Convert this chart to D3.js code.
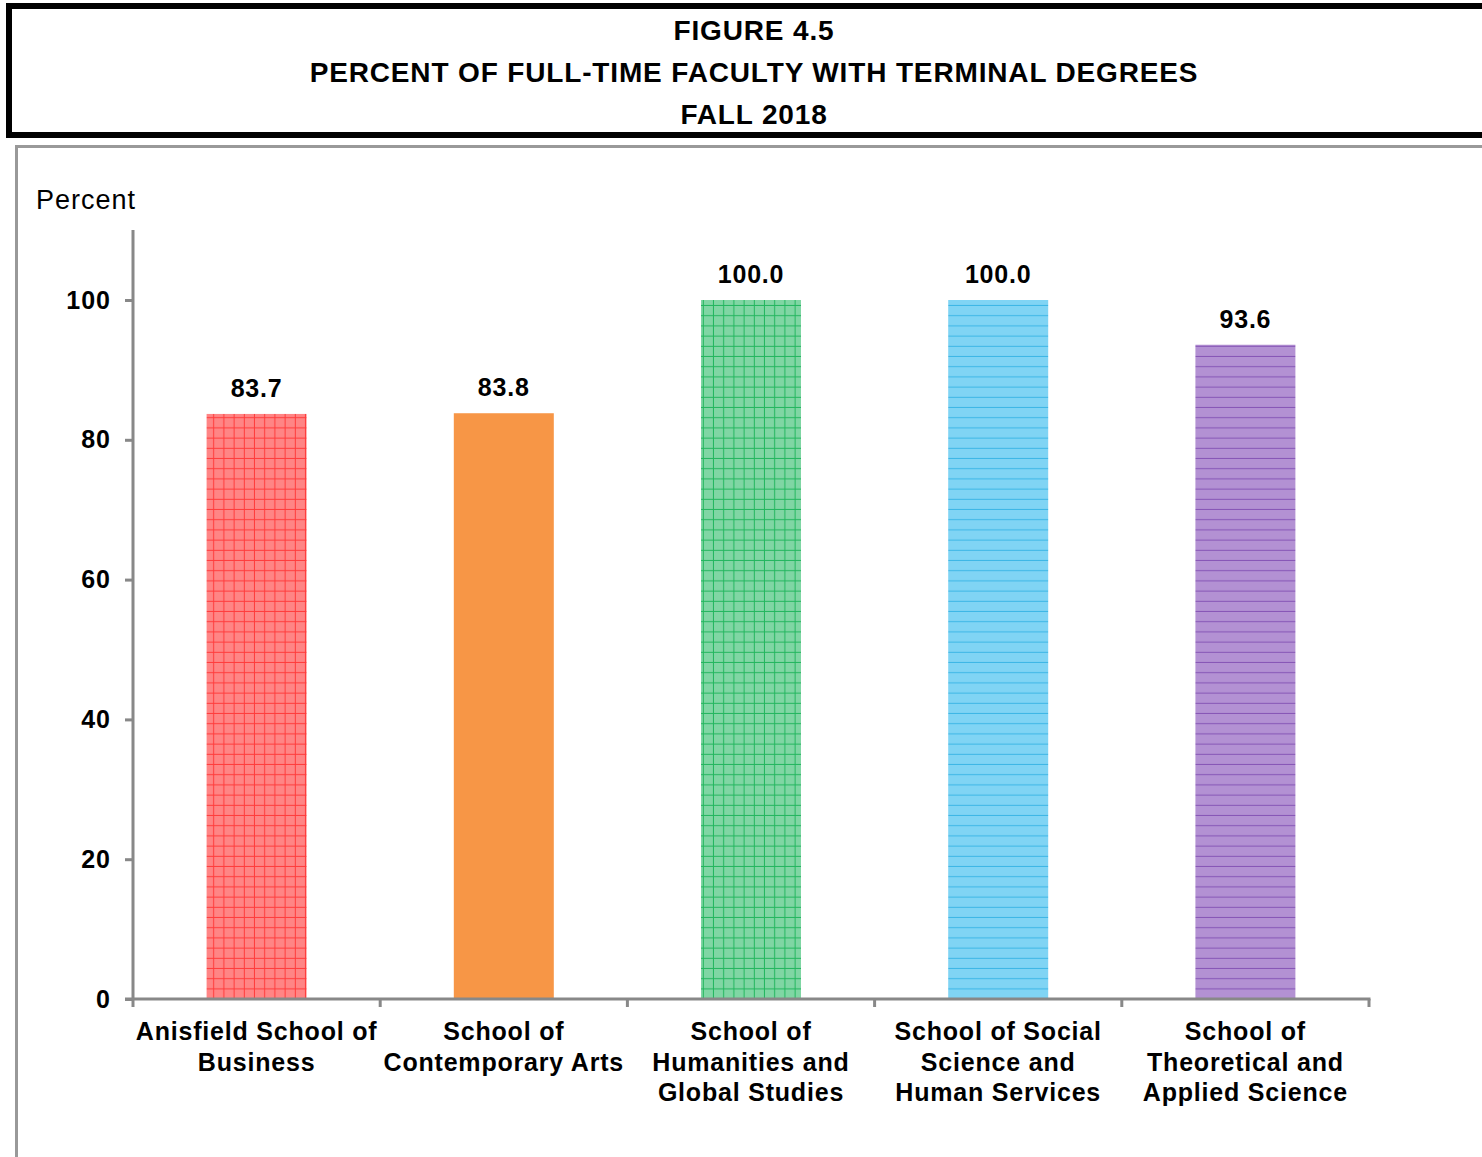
<!DOCTYPE html>
<html>
<head>
<meta charset="utf-8">
<script src="https://cdn.jsdelivr.net/npm/d3@7"></script>
<style>
  html, body { margin: 0; padding: 0; background: #fff; }
  svg { display: block; font-family: Arial, "Liberation Sans", sans-serif; }
</style>
</head>
<body>
<svg id="chart" width="1482" height="1157"></svg>
<script>
// Figure data
const titleLines = ["FIGURE 4.5", "PERCENT OF FULL-TIME FACULTY WITH TERMINAL DEGREES", "FALL 2018"];
const schools = [
  ["Anisfield School of", "Business"],
  ["School of", "Contemporary Arts"],
  ["School of", "Humanities and", "Global Studies"],
  ["School of Social", "Science and", "Human Services"],
  ["School of", "Theoretical and", "Applied Science"]
];
const percents = [83.7, 83.8, 100.0, 100.0, 93.6];
const yTicks = [0, 20, 40, 60, 80, 100];
const yLabel = "Percent";

// Fill style per bar: base colour, line colour, hatch type
const barStyles = [
  { fill: "#ff8585", line: "#ff3b3b", kind: "grid" },
  { fill: "#f79646", line: "#f79646", kind: "solid" },
  { fill: "#80d6a4", line: "#22b65e", kind: "grid" },
  { fill: "#80d4f4", line: "#3cb6e6", kind: "hlines" },
  { fill: "#b391d3", line: "#8655b6", kind: "hlines" }
];

const svg = d3.select("#chart");
const defs = svg.append("defs");

barStyles.forEach((s, i) => {
  if (s.kind === "solid") return;
  const p = defs.append("pattern")
    .attr("id", "pat" + i)
    .attr("patternUnits", "userSpaceOnUse")
    .attr("width", 10.2).attr("height", 10.2);
  p.append("rect").attr("width", 10.2).attr("height", 10.2).attr("fill", s.fill);
  p.append("rect").attr("x", 0).attr("y", 9.2).attr("width", 10.2).attr("height", 1.2).attr("fill", s.line);
  if (s.kind === "grid") {
    p.append("rect").attr("x", 9.2).attr("y", 0).attr("width", 1.2).attr("height", 10.2).attr("fill", s.line);
  }
});

// Title box
svg.append("rect")
  .attr("x", 9).attr("y", 6).attr("width", 1490).attr("height", 129)
  .attr("fill", "none").attr("stroke", "#000").attr("stroke-width", 6);

svg.append("g").selectAll("text")
  .data(titleLines)
  .join("text")
  .attr("x", 754)
  .attr("y", (d, i) => 40 + i * 42)
  .attr("text-anchor", "middle")
  .attr("font-size", 28)
  .attr("letter-spacing", 0.85)
  .attr("font-weight", "bold")
  .text(d => d);

// Chart frame
svg.append("path")
  .attr("d", "M16.5,1157 V146.5 H1482")
  .attr("fill", "none").attr("stroke", "#999").attr("stroke-width", 3);

// Plot area
const x0 = 133, x1 = 1369, yBase = 999;
const x = d3.scaleBand().domain(d3.range(schools.length)).range([x0, x1]).paddingInner(0).paddingOuter(0);
const y = d3.scaleLinear().domain([0, 110]).range([yBase, yBase - 110 * 6.99]);
const barW = 100;

// Bars
svg.append("g").selectAll("rect")
  .data(percents)
  .join("rect")
  .attr("x", (d, i) => x(i) + x.bandwidth() / 2 - barW / 2)
  .attr("y", d => y(d))
  .attr("width", barW)
  .attr("height", d => y(0) - y(d))
  .attr("fill", (d, i) => barStyles[i].kind === "solid" ? barStyles[i].fill : `url(#pat${i})`);

// Value labels
svg.append("g").selectAll("text")
  .data(percents)
  .join("text")
  .attr("x", (d, i) => x(i) + x.bandwidth() / 2)
  .attr("y", d => y(d) - 17)
  .attr("text-anchor", "middle")
  .attr("font-size", 25)
  .attr("letter-spacing", 0.8)
  .attr("font-weight", "bold")
  .text(d => d.toFixed(1));

// Y axis
const yAxis = svg.append("g")
  .attr("transform", `translate(${x0},0)`)
  .call(d3.axisLeft(y).tickValues(yTicks).tickSize(8).tickPadding(14).tickFormat(d3.format("d")));
yAxis.select(".domain").attr("stroke", "#888").attr("stroke-width", 3);
yAxis.selectAll(".tick line").attr("stroke", "#888").attr("stroke-width", 3);
yAxis.selectAll(".tick text")
  .attr("font-size", 25).attr("font-weight", "bold").attr("fill", "#000")
  .attr("letter-spacing", 1)
  .attr("font-family", "Arial, 'Liberation Sans', sans-serif");
yAxis.select(".domain").attr("d", `M0,${y(110)}V${yBase}`);

// X axis with boundary ticks between categories
const xAxisG = svg.append("g");
xAxisG.append("line")
  .attr("x1", x0 - 8).attr("x2", x1 + 1.5)
  .attr("y1", yBase).attr("y2", yBase)
  .attr("stroke", "#888").attr("stroke-width", 3);
xAxisG.selectAll("line.tick")
  .data(d3.range(schools.length + 1))
  .join("line")
  .attr("class", "tick")
  .attr("x1", i => x0 + i * x.bandwidth()).attr("x2", i => x0 + i * x.bandwidth())
  .attr("y1", yBase).attr("y2", yBase + 8)
  .attr("stroke", "#888").attr("stroke-width", 3);

// Category labels
const catLabels = svg.append("g").selectAll("text")
  .data(schools)
  .join("text")
  .attr("x", (d, i) => x(i) + x.bandwidth() / 2)
  .attr("y", 1040)
  .attr("text-anchor", "middle")
  .attr("font-size", 25)
  .attr("letter-spacing", 0.8)
  .attr("font-weight", "bold");
catLabels.selectAll("tspan")
  .data(d => d)
  .join("tspan")
  .attr("x", function() { return d3.select(this.parentNode).attr("x"); })
  .attr("dy", (d, i) => i === 0 ? 0 : 30.5)
  .text(d => d);

// Y axis title
svg.append("text")
  .attr("x", 36).attr("y", 209)
  .attr("font-size", 27)
  .attr("letter-spacing", 1)
  .text(yLabel);
</script>
</body>
</html>
